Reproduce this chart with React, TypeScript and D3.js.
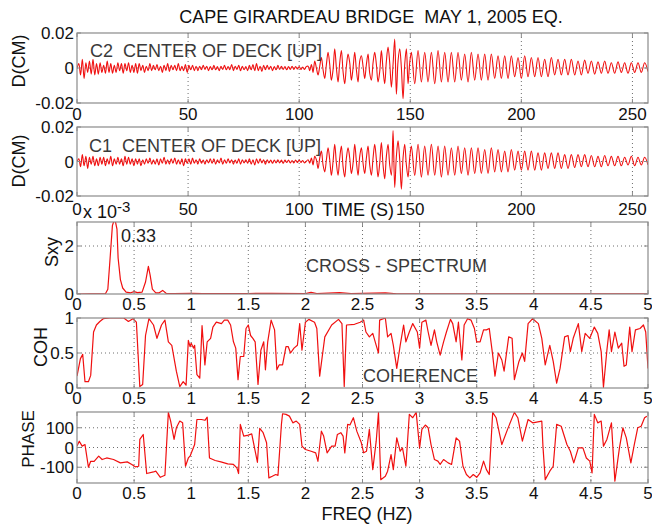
import React from "react";
import * as d3 from "d3";

// ---------------- DATA ----------------
const chartTitle = "CAPE GIRARDEAU BRIDGE  MAY 1, 2005 EQ.";
const timeTicks = [0, 50, 100, 150, 200, 250];
const dispTicks = [-0.02, 0, 0.02];
const dispTickLabels = ["-0.02", "0", "0.02"];
const freqTicks = [0, 0.5, 1, 1.5, 2, 2.5, 3, 3.5, 4, 4.5, 5];
const freqTickLabels = ["0", "0.5", "1", "1.5", "2", "2.5", "3", "3.5", "4", "4.5", "5"];
const sxyTicks = [0, 2];
const cohTicks = [0, 0.5, 1];
const cohTickLabels = ["0", "0.5", "1"];
const phaseTicks = [-100, 0, 100];

// displacement traces: successive extremes, in 1e-3 cm
// segment: [start time (s), step (s), values]
const c2PreEvent = [
  0, 2.5, -4, 5, -6, 3, -2.5, 4, -3.5, 5, -4, 2.5, -3.5,
  3, -2.5, 1.5, -3, 4, -2.5, 2.5, -3, 1.5, -2.5, 3, -1.5, 2.5, -3, 2.5, -1.5, 3, -2.5, 1.5, -2.5, 2.5, -3,
  2.5, -1.5, 1.5, -2.5, 1, -1.5, 2.5, -1.5, 1.5, -1, 2, -1.5, 1, -2.5, 1.5, -1.5, 2.5, -2, 1.5, -1, 1.5, -1.5, 2.5, -1.5, 1, -1.5, 2, -2.5, 1.5, -1, 1.5, -1.5, 1,
  -1.5, 1, -1, 1.5, -0.8, 1, -1.5, 0.8, -1, 1.5, -1, 0.8, -1.5, 1, -0.8, 1.5, -1, 0.8, -1, 2, -1.5, 1, -0.8, 1.5, -1.5, 1, -1, 0.8, -1.5,
  1.5, -1, 2, -1.5, 2.5, -1.5, 1, -2, 1.5, -1, 1.5, -0.8, 1, -1.5, 0.8, -1, 1.5, -0.8, 1, -0.8, 0.8, -1, 0.8, -0.8, 1, -0.8, 0.8, -0.6, 0.8, -0.8, 0.6, -0.8, 0.8,
];
const c2MainShock = [
  1, -1.5, 2, -2.5, 4, 0, -4, 1, 6, -1, -6, 2, 9, 2, -7, -1, 11, 0, -8, 3,
  10, -2, -9, 1, 8, 3, -7, 0, 9, -1, -8, 4, 7, 1, -6, 2, 8, -3, -7, 3,
  9, 2, -8, -2, 10, -1, -9, 4, 12, 3, -11, 2, 16.5, -15, 4, 11, 0, -17.5, 2, 11,
  -9, 3,
];
const c2Coda = [
  9, -9, 10, -8, 9, -8, 9, -9, 10, -8, 9, -8, 9, -8, 9, -7, 8, -8, 9, -7, 8, -7, 8, -7,
  8, -6, 7, -6, 7, -6, 7, -5, 6, -6, 7, -5, 6, -5, 6, -5, 5, -5, 6, -4, 5, -4, 5,
  -4, 5, -4, 4, -4, 4.5, -3, 4, -3.5, 3.5, -3, 4, -3, 3, -3, 3.5, -2.5, 3, -3, 3, -2.5, 3, -2.5, 3, -2,
];
const c1PreEvent = [
  0, 1.5, -3, 4, -2.5, 3, -4, 2.5, -1.5, 3, -2.5, 1.5, -2.5,
  2.5, -1.5, 2.5, -2.5, 1.5, -1.5, 3, -2.5, 1.5, -1.5, 2.5, -1.5, 1.5, -2.5, 3, -1.5, 2.5, -1.5, 1.5, -2.5, 1.5, -1.5,
  1.5, -2.5, 1, -1.5, 1.5, -1, 2, -1.5, 1, -1.5, 1.5, -2, 1.5, -1, 2.5, -1.5, 1, -1.5, 1.5, -1, 2, -1.5, 1, -1.5, 1.5, -2.5, 1.5, -1, 1.5, -1.5, 2, -1,
  1, -1.5, 1.5, -1, 0.8, -1.5, 1, -0.8, 1.5, -1, 1.5, -1.5, 1, -0.8, 2, -1.5, 1, -1, 1.5, -0.8, 1, -1.5, 0.8, -1, 1.5, -1.5, 1, -0.8, 1,
  -1, 1.5, -1.5, 1, -2, 1.5, -1, 1.5, -0.8, 1, -1.5, 1, -0.8, 0.8, -1, 0.8, -0.8, 1, -0.8, 0.8, -1, 0.8, -0.6, 0.8, -0.8, 0.6, -0.8, 0.8, -0.6, 0.8, -0.5, 0.6, -0.8,
];
const c1MainShock = [
  1, -1, 2, -2, 3, 1, -4, 2, 6, -2, -6, 1, 8, 1, -8, 0, 10, -1, -8, 2,
  9, -3, -9, 2, 8, 2, -7, -1, 10, 0, -8, 3, 8, -1, -7, 2, 9, -2, -8, 2,
  10, 1, -9, -1, 11, -2, -10, 3, 10, -2, -8, 18, -15, 3, 12, 1, -16, 2, 10, -2,
  -9, 2,
];
const c1Coda = [
  9, -8, 10, -9, 9, -8, 10, -8, 9, -9, 9, -8, 8, -8, 9, -7, 8, -8, 8, -7, 8, -7, 7, -7,
  8, -6, 7, -6, 6, -6, 7, -5, 6, -5, 6, -5, 6, -5, 5, -5, 5, -4, 5, -4, 5, -4, 4,
  -4, 4, -3.5, 4, -3, 4, -3, 3.5, -3, 3, -3, 3.5, -2.5, 3, -2.5, 3, -2.5, 2.5, -2, 3, -2.5, 2.5, -2, 2.5, -2,
];
const c2Segments: [number, number, number[]][] = [[0, 0.8, c2PreEvent], [104, 0.75, c2MainShock], [150.5, 1.5, c2Coda]];
const c1Segments: [number, number, number[]][] = [[0, 0.8, c1PreEvent], [104, 0.75, c1MainShock], [150.5, 1.5, c1Coda]];

// cross-spectrum [freq Hz, Sxy x1e-3]
const sxyPoints = [
  [0, 0], [0.25, 0.02], [0.27, 0.2], [0.29, 1.5], [0.31, 2.85], [0.32, 3.0], [0.335, 3.05], [0.35, 2.7],
  [0.36, 1.5], [0.38, 0.6], [0.40, 0.25], [0.43, 0.08], [0.47, 0.05], [0.50, 0.1], [0.53, 0.06], [0.57, 0.08],
  [0.60, 0.5], [0.625, 1.15], [0.64, 0.8], [0.66, 0.2], [0.69, 0.05], [0.72, 0.05], [0.75, 0.15], [0.78, 0.03],
  [0.85, 0.02], [1.0, 0.03], [1.1, 0.02], [1.3, 0.02], [1.5, 0.02], [1.7, 0.03], [2.0, 0.02], [2.05, 0.07],
  [2.1, 0.02], [2.3, 0.06], [2.4, 0.02], [2.7, 0.05], [2.8, 0.01], [3.5, 0.01], [5, 0.01],
];
// coherence [freq Hz, coh]
const cohPoints = [
  [0, 0.17], [0.03, 0.42], [0.05, 0.48], [0.07, 0.09], [0.10, 0.09], [0.12, 0.18], [0.145, 0.80], [0.17, 0.90],
  [0.20, 0.95], [0.23, 0.99], [0.29, 1.0], [0.41, 1.0], [0.45, 0.95], [0.49, 0.99], [0.52, 0.94], [0.55, 0.02],
  [0.575, 0.05], [0.60, 0.75], [0.63, 0.99], [0.67, 0.90], [0.70, 0.71], [0.74, 0.90], [0.77, 0.97], [0.80, 0.66],
  [0.83, 0.61], [0.87, 0.24], [0.90, 0.02], [0.93, 0.09], [0.955, 0.04], [0.975, 0.68], [0.99, 0.59], [1.0, 0.64],
  [1.02, 0.57], [1.03, 0.61], [1.05, 0.19], [1.075, 0.14], [1.095, 0.89], [1.12, 0.33], [1.14, 0.66], [1.17, 0.71],
  [1.19, 0.87], [1.22, 0.94], [1.265, 0.92], [1.29, 0.97], [1.32, 0.97], [1.345, 0.90], [1.37, 0.66], [1.39, 0.57],
  [1.41, 0.12], [1.43, 0.45], [1.46, 0.45], [1.48, 0.85], [1.50, 0.90], [1.52, 0.75], [1.54, 0.71], [1.56, 0.66],
  [1.585, 0.05], [1.61, 0.54], [1.635, 0.66], [1.65, 0.26], [1.67, 0.66], [1.70, 0.97], [1.73, 0.83], [1.75, 0.26],
  [1.77, 0.33], [1.80, 0.33], [1.83, 0.59], [1.85, 0.59], [1.87, 0.50], [1.90, 0.57], [1.93, 0.61], [1.95, 0.92],
  [1.97, 0.54], [2.0, 0.94], [2.03, 0.98], [2.08, 0.94], [2.10, 0.85], [2.125, 0.17], [2.17, 0.73], [2.23, 0.90],
  [2.29, 0.98], [2.32, 0.92], [2.34, 0.02], [2.36, 0.90], [2.43, 0.91], [2.48, 0.94], [2.51, 0.97], [2.53, 0.80],
  [2.56, 0.73], [2.59, 0.78], [2.62, 0.61], [2.64, 0.50], [2.65, 0.97], [2.70, 1.0], [2.72, 0.73], [2.75, 0.78],
  [2.77, 0.61], [2.80, 0.28], [2.83, 0.61], [2.86, 0.90], [2.88, 0.66], [2.91, 0.80], [2.94, 0.92], [2.98, 0.80],
  [3.0, 0.57], [3.02, 0.94], [3.055, 0.97], [3.075, 0.80], [3.10, 0.61], [3.13, 0.83], [3.15, 0.66], [3.18, 0.47],
  [3.21, 0.66], [3.235, 0.80], [3.27, 0.98], [3.29, 0.92], [3.32, 0.66], [3.34, 0.94], [3.37, 0.40], [3.39, 0.90],
  [3.42, 0.99], [3.45, 0.97], [3.48, 0.85], [3.50, 0.66], [3.53, 0.66], [3.56, 0.83], [3.585, 0.83], [3.61, 0.85],
  [3.64, 0.47], [3.66, 0.17], [3.69, 0.50], [3.72, 0.40], [3.74, 0.24], [3.78, 0.73], [3.81, 0.71], [3.83, 0.12],
  [3.87, 0.38], [3.90, 0.50], [3.92, 0.38], [3.95, 0.92], [3.99, 0.99], [4.04, 0.92], [4.07, 0.71], [4.10, 0.33],
  [4.14, 0.61], [4.17, 0.38], [4.20, 0.07], [4.23, 0.28], [4.27, 0.73], [4.30, 0.75], [4.32, 0.52], [4.345, 0.71],
  [4.39, 0.92], [4.42, 0.52], [4.45, 0.78], [4.49, 0.71], [4.53, 0.87], [4.56, 0.78], [4.59, 0.52], [4.61, 0.01],
  [4.64, 0.54], [4.66, 0.83], [4.68, 0.52], [4.71, 0.80], [4.74, 0.57], [4.77, 0.64], [4.79, 0.31], [4.81, 0.33],
  [4.84, 0.87], [4.86, 0.52], [4.89, 0.83], [4.93, 0.85], [4.96, 0.90], [4.98, 0.80], [5.0, 0.28],
];
// phase [freq Hz, degrees]
const phasePoints = [
  [0, 7], [0.02, 32], [0.045, 7], [0.07, 15], [0.10, -100], [0.12, -70], [0.15, -70], [0.19, -44], [0.22, -61],
  [0.26, -53], [0.32, -61], [0.38, -78], [0.44, -73], [0.48, -86], [0.51, -98], [0.54, -95], [0.55, 41], [0.58, 66],
  [0.61, -132], [0.67, -124], [0.69, -120], [0.73, -151], [0.77, -141], [0.80, 178], [0.82, 134], [0.85, 41],
  [0.87, 100], [0.90, 134], [0.925, 125], [0.95, -95], [0.975, -53], [0.99, -44], [1.03, 15], [1.05, 142],
  [1.09, 142], [1.12, 138], [1.14, 154], [1.16, -53], [1.21, -66], [1.26, -73], [1.32, -83], [1.37, -86],
  [1.40, -103], [1.415, -132], [1.43, 117], [1.46, 58], [1.50, 63], [1.53, 69], [1.58, -75], [1.60, 97],
  [1.63, 75], [1.66, 24], [1.68, -154], [1.71, -146], [1.74, -137], [1.76, -141], [1.79, 117], [1.80, 171],
  [1.83, 168], [1.86, 159], [1.89, 125], [1.92, 134], [1.95, 117], [1.97, 7], [2.0, -10], [2.05, -19],
  [2.09, -27], [2.11, -70], [2.14, 83], [2.16, 58], [2.19, -27], [2.23, 7], [2.26, 7], [2.28, 66], [2.31, 75],
  [2.33, 58], [2.345, -27], [2.37, 117], [2.39, 114], [2.42, 151], [2.45, 83], [2.49, 24], [2.51, -27],
  [2.535, -19], [2.56, 92], [2.59, -112], [2.62, 32], [2.64, 178], [2.66, -163], [2.70, -146], [2.72, -120],
  [2.75, -36], [2.77, -112], [2.80, 49], [2.83, -19], [2.85, -2], [2.88, -95], [2.91, 168], [2.94, 151],
  [2.97, 178], [3.0, -2], [3.02, 92], [3.05, 114], [3.075, 100], [3.10, 15], [3.13, -61], [3.16, -69],
  [3.18, -86], [3.21, -61], [3.25, -78], [3.28, -86], [3.32, 49], [3.35, 32], [3.38, -95], [3.41, -137],
  [3.44, -154], [3.47, -137], [3.50, -151], [3.53, -129], [3.56, -69], [3.585, -112], [3.61, -137], [3.64, 178],
  [3.67, 151], [3.72, 15], [3.77, 92], [3.83, 178], [3.86, 151], [3.90, 32], [3.95, 142], [3.99, 125],
  [4.07, 134], [4.08, 7], [4.10, -163], [4.14, -120], [4.17, -95], [4.20, 117], [4.24, 108], [4.29, 15],
  [4.32, -19], [4.35, -78], [4.39, -2], [4.43, -2], [4.46, -53], [4.49, -69], [4.51, -129], [4.53, 168],
  [4.56, 125], [4.59, 134], [4.61, 7], [4.64, 41], [4.68, 125], [4.71, -171], [4.75, -2], [4.78, 100],
  [4.81, 49], [4.85, -78], [4.88, 15], [4.91, 100], [4.94, 108], [4.97, 151], [4.99, 159],
];

// ---------------- LAYOUT ----------------
const W = 652;
const H = 527;
const X0 = 77;
const X1 = 648;
const FONT = "'Liberation Sans', Arial, Helvetica, sans-serif";
const RED = "#f01010";
const FRAME = "#8a8a8a";
const GRID = "#6e6e6e";

function buildTrace(segments: [number, number, number[]][]): [number, number][] {
  const pts: [number, number][] = [];
  segments.forEach(([start, step, vals]) => {
    vals.forEach((v, i) => pts.push([start + i * step, v * 1e-3]));
  });
  return pts;
}

type AxesProps = {
  id: string;
  top: number;
  bottom: number;
  x: d3.ScaleLinear<number, number>;
  y: d3.ScaleLinear<number, number>;
  xTicks: number[];
  xLabels: string[];
  yTicks: number[];
  yLabels: string[];
  xLabelBaseline: number;
  data: [number, number][];
  strokeWidth?: number;
  smooth?: boolean;
};

function Axes(p: AxesProps) {
  const [xd0, xd1] = p.x.domain();
  const [yd0, yd1] = p.y.domain();
  const line = d3
    .line<[number, number]>()
    .x((d) => p.x(d[0]))
    .y((d) => p.y(d[1]))
    .curve(p.smooth ? d3.curveCatmullRom.alpha(0.5) : d3.curveLinear);
  const tk = 4;
  return (
    <g>
      <defs>
        <clipPath id={p.id}>
          <rect x={X0} y={p.top} width={X1 - X0} height={p.bottom - p.top} />
        </clipPath>
      </defs>
      {p.xTicks
        .filter((v) => v > xd0 && v < xd1)
        .map((v) => (
          <line key={"gx" + v} x1={p.x(v)} x2={p.x(v)} y1={p.top} y2={p.bottom} stroke={GRID} strokeWidth={1} strokeDasharray="1 3" />
        ))}
      {p.yTicks
        .filter((v) => v > yd0 && v < yd1)
        .map((v) => (
          <line key={"gy" + v} x1={X0} x2={X1} y1={p.y(v)} y2={p.y(v)} stroke={GRID} strokeWidth={1} strokeDasharray="1 3" />
        ))}
      <path d={line(p.data) || ""} fill="none" stroke={RED} strokeWidth={p.strokeWidth ?? 1.2} strokeLinejoin="round" clipPath={`url(#${p.id})`} />
      {p.xTicks.map((v) => (
        <g key={"tx" + v}>
          <line x1={p.x(v)} x2={p.x(v)} y1={p.bottom} y2={p.bottom - tk} stroke={FRAME} />
          <line x1={p.x(v)} x2={p.x(v)} y1={p.top} y2={p.top + tk} stroke={FRAME} />
        </g>
      ))}
      {p.yTicks.map((v) => (
        <g key={"ty" + v}>
          <line x1={X0} x2={X0 + tk} y1={p.y(v)} y2={p.y(v)} stroke={FRAME} />
          <line x1={X1} x2={X1 - tk} y1={p.y(v)} y2={p.y(v)} stroke={FRAME} />
        </g>
      ))}
      <rect x={X0} y={p.top} width={X1 - X0} height={p.bottom - p.top} fill="none" stroke={FRAME} strokeWidth={1.2} />
      {p.xTicks.map((v, i) => (
        <text key={"lx" + v} x={p.x(v)} y={p.xLabelBaseline} textAnchor="middle" fontSize={17} fontFamily={FONT} fill="#111">
          {p.xLabels[i]}
        </text>
      ))}
      {p.yTicks.map((v, i) => (
        <text key={"ly" + v} x={74} y={p.y(v)} dy="0.36em" textAnchor="end" fontSize={17} fontFamily={FONT} fill="#111">
          {p.yLabels[i]}
        </text>
      ))}
    </g>
  );
}

function YTitle({ x, y, text, size = 18 }: { x: number; y: number; text: string; size?: number }) {
  return (
    <text transform={`translate(${x},${y}) rotate(-90)`} textAnchor="middle" fontSize={size} fontFamily={FONT} fill="#111">
      {text}
    </text>
  );
}

export default function App() {
  const c2 = buildTrace(c2Segments);
  const c1 = buildTrace(c1Segments);

  const xTime = d3.scaleLinear().domain([0, 257]).range([X0, X1]);
  const xFreq = d3.scaleLinear().domain([0, 5]).range([X0, X1]);

  const p1 = { top: 33, bottom: 103 };
  const p2 = { top: 127, bottom: 196 };
  const p3 = { top: 222, bottom: 294 };
  const p4 = { top: 318, bottom: 388 };
  const p5 = { top: 412, bottom: 483 };

  const y1 = d3.scaleLinear().domain([-0.02, 0.02]).range([p1.bottom, p1.top]);
  const y2 = d3.scaleLinear().domain([-0.02, 0.02]).range([p2.bottom, p2.top]);
  const y3 = d3.scaleLinear().domain([0, 3]).range([p3.bottom, p3.top]);
  const y4 = d3.scaleLinear().domain([0, 1]).range([p4.bottom, p4.top]);
  const y5 = d3.scaleLinear().domain([-180, 180]).range([p5.bottom, p5.top]);

  const timeLabels = timeTicks.map(String);
  const inner = { fontSize: 18, fontFamily: FONT, fill: "#3a3a3a" };

  return (
    <svg width={W} height={H} style={{ position: "absolute", left: 0, top: 0, background: "#fff" }}>
      <rect width={W} height={H} fill="#fff" />
      <text x={371} y={23} textAnchor="middle" fontSize={18} fontFamily={FONT} fill="#111" style={{ whiteSpace: "pre" }}>
        {chartTitle}
      </text>

      <Axes id="c1" {...p1} x={xTime} y={y1} xTicks={timeTicks} xLabels={timeLabels} yTicks={dispTicks} yLabels={dispTickLabels} xLabelBaseline={120} data={c2} strokeWidth={1.1} smooth />
      <Axes id="c2" {...p2} x={xTime} y={y2} xTicks={timeTicks} xLabels={timeLabels} yTicks={dispTicks} yLabels={dispTickLabels} xLabelBaseline={215} data={c1} strokeWidth={1.1} smooth />
      <Axes id="c3" {...p3} x={xFreq} y={y3} xTicks={freqTicks} xLabels={freqTickLabels} yTicks={sxyTicks} yLabels={sxyTicks.map(String)} xLabelBaseline={310} data={sxyPoints as [number, number][]} />
      <Axes id="c4" {...p4} x={xFreq} y={y4} xTicks={freqTicks} xLabels={freqTickLabels} yTicks={cohTicks} yLabels={cohTickLabels} xLabelBaseline={404} data={cohPoints as [number, number][]} />
      <Axes id="c5" {...p5} x={xFreq} y={y5} xTicks={freqTicks} xLabels={freqTickLabels} yTicks={phaseTicks} yLabels={phaseTicks.map(String)} xLabelBaseline={499} data={phasePoints as [number, number][]} />

      <text x={90} y={57} {...inner} style={{ whiteSpace: "pre" }}>C2  CENTER OF DECK [UP]</text>
      <text x={89} y={152} {...inner} style={{ whiteSpace: "pre" }}>C1  CENTER OF DECK [UP]</text>
      <text x={322} y={216} fontSize={18} fontFamily={FONT} fill="#111">TIME (S)</text>
      <text x={83} y={218} fontSize={18} fontFamily={FONT} fill="#111">
        x 10
        <tspan dy={-6} fontSize={15}>-3</tspan>
      </text>
      <text x={121} y={242} fontSize={18} fontFamily={FONT} fill="#222">0.33</text>
      <text x={306} y={272} {...inner}>CROSS - SPECTRUM</text>
      <text x={363} y={382} {...inner}>COHERENCE</text>
      <text x={367} y={520} textAnchor="middle" fontSize={18} fontFamily={FONT} fill="#111">FREQ (HZ)</text>

      <YTitle x={25} y={61} text="D(CM)" />
      <YTitle x={25} y={161} text="D(CM)" />
      <YTitle x={58} y={252} text="Sxy" />
      <YTitle x={47} y={347} text="COH" />
      <YTitle x={34} y={439} text="PHASE" size={17} />
    </svg>
  );
}
